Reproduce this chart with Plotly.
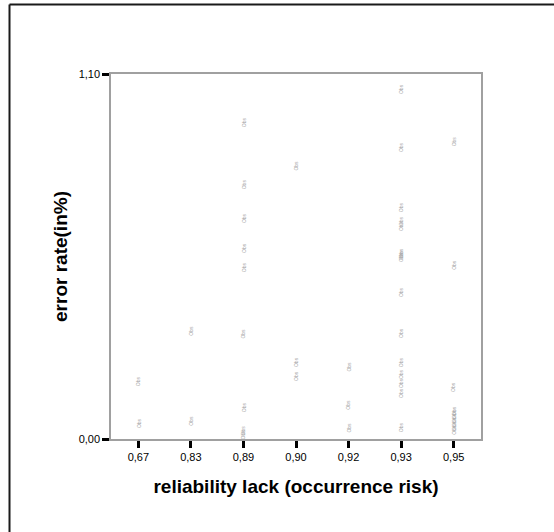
import plotly.graph_objects as go

categories = ["0,67", "0,83", "0,89", "0,90", "0,92", "0,93", "0,95"]

# points: category label and error rate (in %)
pt_cat = (
    ["0,67"] * 2
    + ["0,83"] * 2
    + ["0,89"] * 9
    + ["0,90"] * 3
    + ["0,92"] * 3
    + ["0,93"] * 15
    + ["0,95"] * 9
)
pt_val = (
    [0.175, 0.049]
    + [0.326, 0.055]
    + [0.956, 0.769, 0.667, 0.577, 0.519, 0.319, 0.097, 0.027, 0.015]
    + [0.824, 0.232, 0.190]
    + [0.217, 0.102, 0.033]
    + [1.055, 0.880, 0.699, 0.657, 0.642, 0.561, 0.555, 0.549, 0.443, 0.320,
       0.232, 0.196, 0.169, 0.139, 0.036]
    + [0.896, 0.524, 0.156, 0.084, 0.075, 0.063, 0.051, 0.039, 0.027]
)

y_ticks = [0.0, 1.10]
y_ticktext = ["0,00", "1,10"]

fig = go.Figure()
# invisible trace to establish category axis
fig.add_trace(go.Scatter(x=pt_cat, y=pt_val, mode="markers",
                         marker=dict(size=1, color="rgba(0,0,0,0)"),
                         hoverinfo="skip", showlegend=False))

for c, v in zip(pt_cat, pt_val):
    fig.add_annotation(x=c, y=v, xref="x", yref="y", text="Obs",
                       showarrow=False, textangle=-90,
                       font=dict(family="Liberation Sans, Arial", size=5, color="#a8a8a8"))

font_family = "Liberation Sans, Arial, sans-serif"

fig.update_layout(
    width=554, height=532,
    margin=dict(l=111, r=73, t=74, b=93),
    paper_bgcolor="white", plot_bgcolor="white",
    font=dict(family=font_family, color="black"),
    showlegend=False,
    xaxis=dict(
        type="category", categoryorder="array", categoryarray=categories,
        range=[-0.52, 6.52],
        showline=True, linecolor="#a0a0a0", linewidth=1.5, mirror=True,
        showgrid=False, zeroline=False,
        ticks="outside", ticklen=7, tickwidth=3, tickcolor="black",
        tickfont=dict(size=11, family=font_family),
        title=dict(text="<b>reliability lack (occurrence risk)</b>",
                   font=dict(size=19, family=font_family), standoff=18),
    ),
    yaxis=dict(
        range=[0, 1.10],
        tickvals=y_ticks, ticktext=y_ticktext,
        showline=True, linecolor="#a0a0a0", linewidth=1.5, mirror=True,
        showgrid=False, zeroline=False,
        ticks="outside", ticklen=7, tickwidth=3, tickcolor="black",
        tickfont=dict(size=11, family=font_family),
        title=dict(text="<b>error rate(in%)</b>",
                   font=dict(size=19, family=font_family), standoff=6),
    ),
)

# outer frame lines (top and left)
fig.add_shape(type="line", xref="paper", yref="paper",
              x0=-0.2743, x1=1.2, y0=1.1904, y1=1.1904,
              line=dict(color="#1a1a1a", width=2))
fig.add_shape(type="line", xref="paper", yref="paper",
              x0=-0.2743, x1=-0.2743, y0=1.1904, y1=-0.26,
              line=dict(color="#1a1a1a", width=2))

fig.write_html("out.html")
